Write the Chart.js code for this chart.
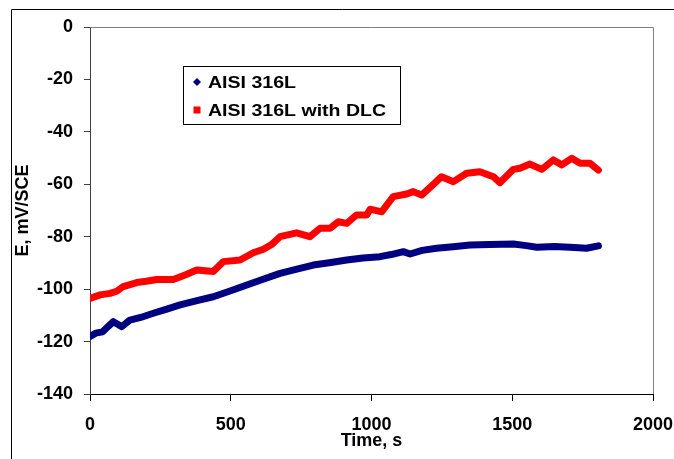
<!DOCTYPE html>
<html><head><meta charset="utf-8">
<script src="https://cdn.jsdelivr.net/npm/chart.js@4/dist/chart.umd.min.js"></script>
<style>html,body{margin:0;padding:0;background:#fff}#wrap{width:674px;height:459px;position:relative}</style>
</head><body><div id="wrap"><canvas id="c" width="674" height="459"></canvas></div>
<script>
const seriesNames = ['AISI 316L', 'AISI 316L with DLC'];
const seriesColors = ['#000080', '#FF0000'];
const timeA = [0,20,45,65,83,100,113,142,180,225,270,320,380,438,500,557,615,675,735,793,850,912,970,1030,1070,1113,1137,1180,1231,1290,1350,1420,1504,1550,1587,1650,1705,1764,1806];
const valA  = [-118.1,-116.8,-116.3,-114.2,-112.4,-113.5,-114.3,-111.8,-110.8,-109.2,-107.7,-106,-104.4,-102.9,-100.6,-98.4,-96.2,-94,-92.4,-90.8,-89.9,-88.9,-88.1,-87.6,-86.8,-85.7,-86.6,-85.2,-84.4,-83.8,-83.2,-83.0,-82.8,-83.4,-84,-83.7,-84,-84.4,-83.5];
const timeB = [0,36,71,95,118,166,200,237,296,340,379,438,474,533,580,616,645,675,734,781,817,853,882,912,947,983,995,1036,1077,1125,1148,1178,1215,1249,1291,1338,1385,1433,1456,1504,1527,1563,1605,1646,1676,1711,1741,1776,1806];
const valB  = [-103.5,-102.2,-101.6,-100.8,-99,-97.5,-97,-96.3,-96.3,-94.5,-92.7,-93.3,-89.5,-88.9,-86.1,-84.8,-83,-80,-78.5,-80,-76.8,-76.8,-74.3,-74.9,-71.7,-71.7,-69.5,-70.5,-64.7,-63.7,-62.8,-64.1,-60.5,-57.1,-59,-55.8,-55.2,-57.1,-59.4,-54.3,-53.9,-52.3,-54.3,-50.7,-52.6,-50.1,-52,-52,-54.6];
const xTicks = [0,500,1000,1500,2000];
const yTicks = [0,-20,-40,-60,-80,-100,-120,-140];
const xTitle = 'Time, s';
const yTitle = 'E, mV/SCE';

const FONT = '"Liberation Sans", Arial, sans-serif';
const toPts = (xs, ys) => xs.map((x, i) => ({x: x, y: ys[i]}));

const framePlugin = {
  id: 'frame',
  afterDraw(chart) {
    const ctx = chart.ctx, a = chart.chartArea;
    ctx.save();
    ctx.strokeStyle = '#000'; ctx.lineWidth = 1;
    ctx.beginPath();
    ctx.moveTo(11.5, 459); ctx.lineTo(11.5, 9.5); ctx.lineTo(674, 9.5);
    ctx.stroke();
    ctx.strokeStyle = '#808080';
    ctx.beginPath();
    ctx.moveTo(a.left, Math.round(a.top) + 0.5);
    ctx.lineTo(Math.round(a.right) + 0.5, Math.round(a.top) + 0.5);
    ctx.lineTo(Math.round(a.right) + 0.5, a.bottom);
    ctx.stroke();
    const lx = 183.5, ly = 66.5, lw = 217, lh = 58;
    ctx.fillStyle = '#fff';
    ctx.fillRect(lx, ly, lw, lh);
    ctx.strokeStyle = '#000';
    ctx.strokeRect(lx, ly, lw, lh);
    const rows = [82, 110];
    chart.data.datasets.forEach((ds, i) => {
      const y = rows[i], mx = 197;
      ctx.fillStyle = ds.borderColor;
      ctx.beginPath();
      if (i === 0) {
        ctx.moveTo(mx, y - 4); ctx.lineTo(mx + 4, y); ctx.lineTo(mx, y + 4); ctx.lineTo(mx - 4, y);
        ctx.closePath(); ctx.fill();
      } else {
        ctx.fillRect(mx - 3.5, y - 3.5, 7, 7);
      }
      ctx.save();
      ctx.fillStyle = '#000';
      ctx.font = 'bold 17px ' + FONT;
      ctx.textBaseline = 'middle';
      ctx.textAlign = 'left';
      ctx.translate(208, y + 1);
      ctx.scale(1.15, 1);
      ctx.fillText(ds.label, 0, 0);
      ctx.restore();
    });
    ctx.restore();
  }
};

new Chart(document.getElementById('c'), {
  type: 'line',
  data: {
    datasets: [
      {label: seriesNames[0], data: toPts(timeA, valA), borderColor: seriesColors[0], backgroundColor: seriesColors[0],
       borderWidth: 7, pointRadius: 0, tension: 0, borderJoinStyle: 'round', borderCapStyle: 'round'},
      {label: seriesNames[1], data: toPts(timeB, valB), borderColor: seriesColors[1], backgroundColor: seriesColors[1],
       borderWidth: 7, pointRadius: 0, tension: 0, borderJoinStyle: 'round', borderCapStyle: 'round'}
    ]
  },
  options: {
    responsive: false,
    devicePixelRatio: 1,
    animation: false,
    layout: {padding: {top: 27, right: 0, left: 0, bottom: 0}},
    plugins: {legend: {display: false}, tooltip: {enabled: false}},
    scales: {
      x: {
        type: 'linear', min: 0, max: 2000,
        afterBuildTicks: s => { s.ticks = xTicks.map(v => ({value: v})); },
        afterFit: s => { s.height = 65; s.paddingRight = 21; s.paddingLeft = 0; },
        ticks: {color: '#000', font: {family: FONT, size: 18, weight: 'bold'}, padding: 13, maxRotation: 0,
                callback: v => String(v)},
        grid: {display: true, drawOnChartArea: false, drawTicks: true, tickLength: 7, color: '#000'},
        border: {display: true, color: '#000', width: 1},
        title: {display: true, text: xTitle, color: '#000', font: {family: FONT, size: 18, weight: 'bold'}, padding: {top: 0, bottom: 7}}
      },
      y: {
        type: 'linear', min: -140, max: 0,
        afterBuildTicks: s => { s.ticks = yTicks.map(v => ({value: v})); },
        afterFit: s => { s.width = 90; },
        ticks: {color: '#000', font: {family: FONT, size: 18, weight: 'bold'}, padding: 11, callback: v => String(v)},
        grid: {display: true, drawOnChartArea: false, drawTicks: true, tickLength: 6, color: '#404040'},
        border: {display: true, color: '#404040', width: 1},
        title: {display: true, text: yTitle, color: '#000', font: {family: FONT, size: 18, weight: 'bold'}, padding: {top: 12, bottom: 0}}
      }
    }
  },
  plugins: [framePlugin]
});
</script></body></html>
